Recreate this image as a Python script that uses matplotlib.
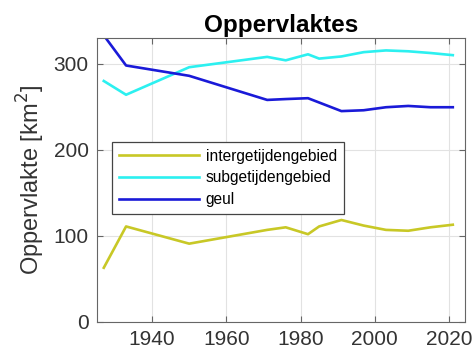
"""Oppervlakte van intergetijdengebied, subgetijdengebied en geul door de tijd."""
import matplotlib
matplotlib.use("Agg")
import matplotlib.pyplot as plt

plt.rcParams.update({"font.family": ["Liberation Sans", "DejaVu Sans"]})

# jaren van de lodingen en de bijbehorende oppervlaktes [km2]
jaren = [1927, 1933, 1950, 1971, 1976, 1982, 1985, 1991, 1997, 2003, 2009, 2015, 2021]
intergetijde = [63, 111, 91, 107, 110, 102, 111, 118.5, 112, 107, 106, 110, 113]
subgetijde = [280, 264, 296, 308, 304, 311, 306, 308.5, 313.5, 315.5, 314.5, 312.5, 310]
geul = [333, 298, 286, 258, 259, 260, 255, 245, 246, 249.5, 251, 249.5, 249.5]

series = [
    ("intergetijdengebied", intergetijde, "#c8c826"),
    ("subgetijdengebied", subgetijde, "#2cf0f0"),
    ("geul", geul, "#1a1ad8"),
]

fig = plt.figure(figsize=(4.76, 3.58), dpi=100)
ax = fig.add_axes([0.204, 0.1006, 0.773, 0.7934])

for naam, waarden, kleur in series:
    ax.plot(jaren, waarden, color=kleur, linewidth=1.9, label=naam)

ax.set_xlim(1925.2, 2024.3)
ax.set_ylim(0, 330)
ax.set_xticks([1940, 1960, 1980, 2000, 2020])
ax.set_yticks([0, 100, 200, 300])
ax.grid(True, color="#e2e2e2", linewidth=0.8)
ax.set_axisbelow(True)
for sp in ax.spines.values():
    sp.set_color("#666666")
    sp.set_linewidth(0.8)
ax.tick_params(direction="in", top=True, right=True, length=4, color="#666666",
               labelsize=15, labelcolor="#333333", pad=6)

ax.set_ylabel("Oppervlakte [km$^2$]", fontsize=17, color="#333333", labelpad=5)
ax.set_title("Oppervlaktes", fontsize=17.5, fontweight="bold", pad=4)

leg = ax.legend(loc="upper left", bbox_to_anchor=(0.041, 0.634), borderaxespad=0,
                fontsize=11.2, frameon=True, fancybox=False, edgecolor="#444444",
                framealpha=1, handlelength=5.1, handletextpad=0.45,
                borderpad=0.45, labelspacing=0.42)
leg.get_frame().set_linewidth(0.9)

fig.savefig("out.png", dpi=100)
